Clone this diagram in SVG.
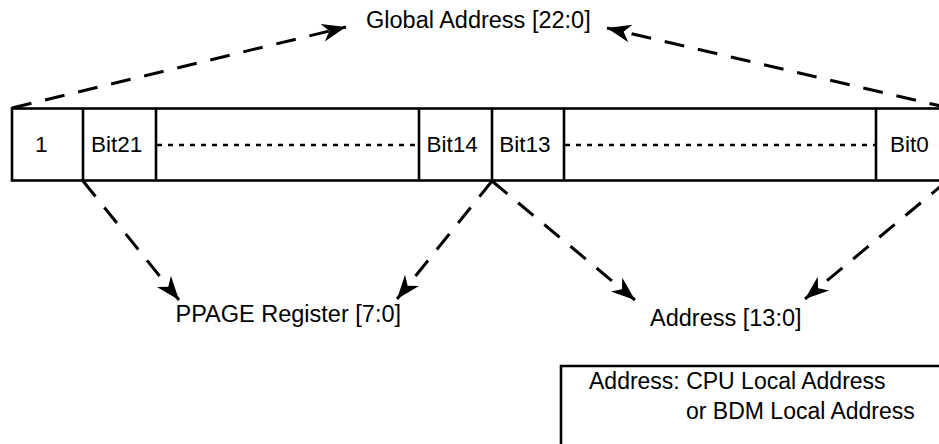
<svg xmlns="http://www.w3.org/2000/svg" width="939" height="444" viewBox="0 0 939 444">
<style>
.t{font-family:"Liberation Sans",Arial,sans-serif;fill:#000}
.big{font-size:23.5px}
.bit{font-size:22.5px}
.box{fill:none;stroke:#000;stroke-width:2.6}
.dot{fill:none;stroke:#000;stroke-width:2.5;stroke-dasharray:5 6}
.con{fill:none;stroke:#000;stroke-width:3;stroke-dasharray:20 14}
</style>
<defs>
<marker id="ah" markerUnits="userSpaceOnUse" markerWidth="30" markerHeight="30" refX="24" refY="9" orient="auto" viewBox="0 0 30 18">
<path d="M24,9 L0,0 L7,9 L0,18 Z" fill="#000"/>
</marker>
</defs>
<rect width="939" height="444" fill="#fff"/>
<g id="register">
<rect class="box" x="12" y="108.5" width="937" height="72"/>
<line class="box" x1="83" y1="108.5" x2="83" y2="180.5"/>
<line class="box" x1="156" y1="108.5" x2="156" y2="180.5"/>
<line class="box" x1="419" y1="108.5" x2="419" y2="180.5"/>
<line class="box" x1="492" y1="108.5" x2="492" y2="180.5"/>
<line class="box" x1="564" y1="108.5" x2="564" y2="180.5"/>
<line class="box" x1="876" y1="108.5" x2="876" y2="180.5"/>
<line class="dot" x1="157" y1="145" x2="419" y2="145"/>
<line class="dot" x1="565" y1="145" x2="876" y2="145"/>
<text class="t bit" x="35" y="152">1</text>
<text class="t bit" x="91" y="152">Bit21</text>
<text class="t bit" x="426.5" y="152">Bit14</text>
<text class="t bit" x="499.2" y="152">Bit13</text>
<text class="t bit" x="890" y="152">Bit0</text>
</g>
<g id="global">
<text class="t big" x="366" y="28">Global Address [22:0]</text>
</g>
<g id="ppage">
<text class="t big" x="175.5" y="322">PPAGE Register [7:0]</text>
</g>
<g id="address">
<text class="t big" x="650" y="326">Address [13:0]</text>
</g>
<g id="legend">
<path class="box" d="M939,366 H561 V444"/>
<text class="t" style="font-size:23px" x="589" y="389">Address: CPU Local Address</text>
<text class="t" style="font-size:23px" x="686" y="419">or BDM Local Address</text>
</g>
<g id="connectors">
<line class="con" x1="12" y1="108" x2="346" y2="27" marker-end="url(#ah)"/>
<line class="con" x1="949" y1="108" x2="607" y2="28" marker-end="url(#ah)"/>
<line class="con" x1="83" y1="181" x2="179" y2="300" marker-end="url(#ah)"/>
<line class="con" x1="492" y1="181" x2="397" y2="299" marker-end="url(#ah)"/>
<line class="con" x1="492" y1="181" x2="635" y2="300" marker-end="url(#ah)"/>
<line class="con" x1="947" y1="181" x2="805" y2="299" marker-end="url(#ah)"/>
</g>
</svg>
